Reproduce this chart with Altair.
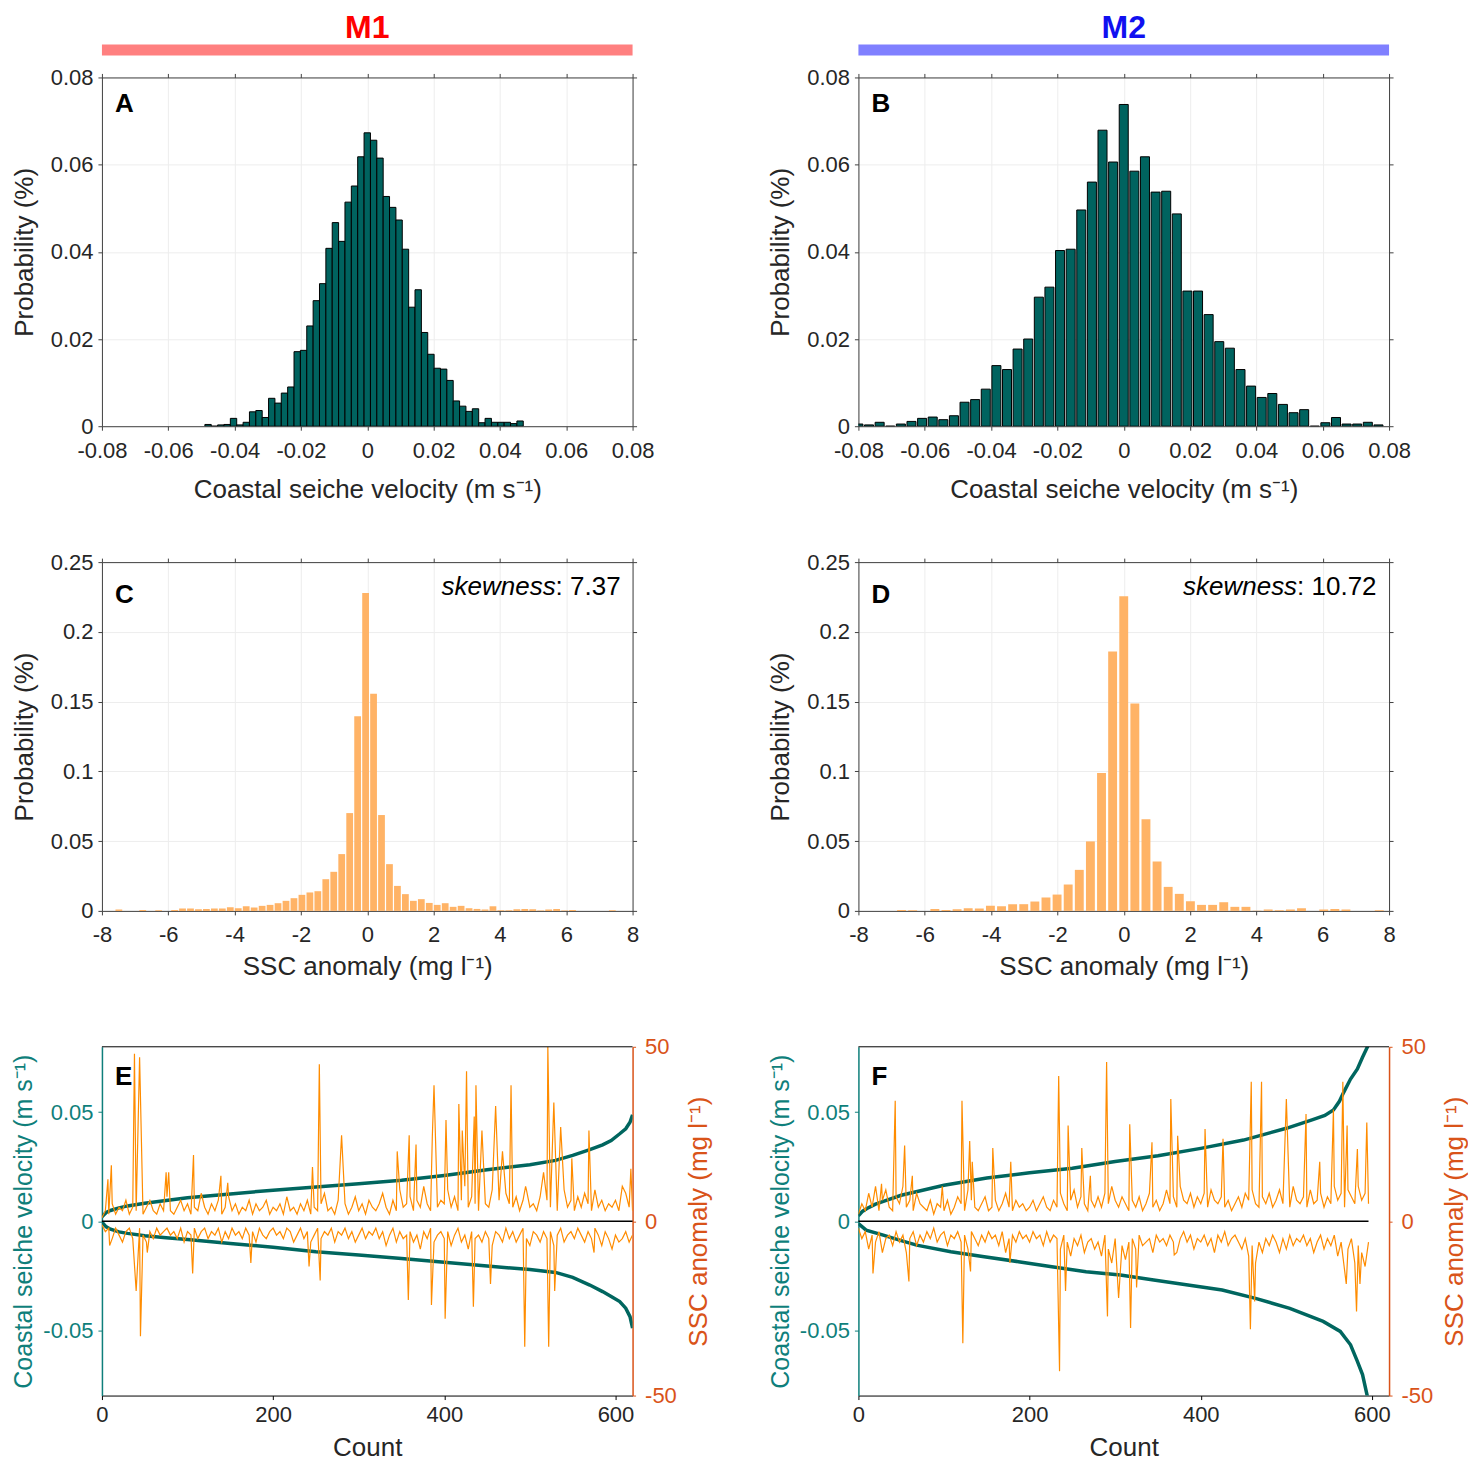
import altair as alt
import pandas as pd

FONT = "Liberation Sans"
DARK = "#262626"
GRID = "#EDEDED"
HIST_TEAL = "#00635F"
HIST_ORANGE = "#FFB366"
TEAL = "#00665F"
TEAL_AX = "#0F7F7B"
ORANGE = "#FF8C00"
ORANGE_AX = "#D95319"
LBL = "replace(format(datum.value, '~g'), '\u2212', '-')"

# ---------------- Panel A (M1 velocity histogram) ----------------
A_BIN = 0.00192
A_K0 = -25
A_PROB = [0.0004, 0.0, 0.0003, 0.0004, 0.0018, 0.0003, 0.0009, 0.0033, 0.0036, 0.0020,
          0.0064, 0.0053, 0.0076, 0.0090, 0.0171, 0.0174, 0.0230, 0.0288, 0.0327, 0.0408,
          0.0467, 0.0424, 0.0514, 0.0551, 0.0618, 0.0673, 0.0656, 0.0615, 0.0527, 0.0502,
          0.0473, 0.0406, 0.0273, 0.0313, 0.0215, 0.0165, 0.0133, 0.0131, 0.0105, 0.0058,
          0.0046, 0.0034, 0.0040, 0.0008, 0.0018, 0.0009, 0.0009, 0.0009, 0.0006, 0.0012]

# ---------------- Panel B (M2 velocity histogram) ----------------
B_BIN = 0.0032
B_K0 = -25
B_PROB = [0.0005, 0.0003, 0.0009, 0.0, 0.0005, 0.0011, 0.0018, 0.0021, 0.0015, 0.0024,
          0.0055, 0.0061, 0.0085, 0.0139, 0.0130, 0.0177, 0.0200, 0.0296, 0.0319, 0.0403,
          0.0406, 0.0496, 0.0560, 0.0679, 0.0606, 0.0738, 0.0585, 0.0618, 0.0537, 0.0539,
          0.0487, 0.0310, 0.0310, 0.0256, 0.0194, 0.0179, 0.0130, 0.0092, 0.0066, 0.0075,
          0.0050, 0.0031, 0.0038, 0.0, 0.0008, 0.0020, 0.0005, 0.0005, 0.0009, 0.0003]

# ---------------- Panel C (M1 SSC anomaly histogram) ----------------
C_BIN = 0.24
C_C0 = -0.05
C_K0 = -31
C_PROB = [0.0010, 0.0, 0.0, 0.0007, 0.0, 0.0005, 0.0, 0.0007, 0.0017, 0.0017,
          0.0012, 0.0014, 0.0017, 0.0017, 0.0026, 0.0019, 0.0033, 0.0024, 0.0036, 0.0043,
          0.0055, 0.0072, 0.0091, 0.0115, 0.0132, 0.0141, 0.0227, 0.0280, 0.0407, 0.0701,
          0.1395, 0.2278, 0.1557, 0.0687, 0.0335, 0.0179, 0.0120, 0.0072, 0.0084, 0.0057,
          0.0043, 0.0055, 0.0029, 0.0036, 0.0019, 0.0014, 0.0010, 0.0033, 0.0005, 0.0005,
          0.0012, 0.0014, 0.0012, 0.0002, 0.0010, 0.0014, 0.0002, 0.0007, 0.0, 0.0,
          0.0, 0.0, 0.0005]
C_SKEW = "7.37"

# ---------------- Panel D (M2 SSC anomaly histogram) ----------------
D_BIN = 0.335
D_C0 = 0.0
D_K0 = -23
D_PROB = [0.0, 0.0, 0.0, 0.0007, 0.0005, 0.0, 0.0014, 0.0007, 0.0012, 0.0019,
          0.0017, 0.0036, 0.0033, 0.0048, 0.0048, 0.0067, 0.0096, 0.0117, 0.0189, 0.0294,
          0.0498, 0.0988, 0.1859, 0.2256, 0.1486, 0.0656, 0.0354, 0.0172, 0.0122, 0.0069,
          0.0043, 0.0043, 0.0062, 0.0029, 0.0029, 0.0002, 0.0010, 0.0005, 0.0010, 0.0019,
          0.0, 0.0010, 0.0014, 0.0010, 0.0, 0.0, 0.0005]
D_SKEW = "10.72"

# ---------------- Panel E (M1 sorted velocity + SSC anomaly) ----------------
E_TEAL_UP_C = [0, 5, 10, 20, 30, 50, 75, 100, 150, 200, 250, 300, 350, 400, 450, 500,
               530, 550, 570, 585, 595, 605, 612, 617, 620]
E_TEAL_UP_V = [0.0020, 0.0040, 0.0049, 0.0061, 0.0070, 0.0082, 0.0095, 0.0107, 0.0125, 0.0142,
               0.0157, 0.0172, 0.0188, 0.0210, 0.0236, 0.0259, 0.0279, 0.0302, 0.0328, 0.0350,
               0.0370, 0.0401, 0.0424, 0.0454, 0.0488]
E_TEAL_DN_C = E_TEAL_UP_C
E_TEAL_DN_V = [-0.0005, -0.0026, -0.0037, -0.0049, -0.0056, -0.0067, -0.0076, -0.0084, -0.0102,
               -0.0120, -0.0140, -0.0155, -0.0171, -0.0189, -0.0206, -0.0222, -0.0235, -0.0258,
               -0.0293, -0.0323, -0.0346, -0.0369, -0.0399, -0.0438, -0.0491]
E_STEP = 4
E_SSC_UP = [1, 3, 2, 5, 2, 4, 3, 6, 2, 4,
            3, 5, 2, 4, 6, 3, 2, 5, 3, 7,
            3, 2, 4, 6, 3, 5, 2, 4, 3, 8,
            4, 2, 5, 3, 6, 2, 4, 7, 3, 5,
            2, 4, 3, 6, 2, 5, 3, 4, 6, 2,
            4, 3, 5, 2, 7, 3, 4, 2, 5, 3,
            6, 2, 4, 3, 5, 8, 3, 4, 2, 6,
            3, 5, 2, 4, 7, 3, 5, 2, 6, 4,
            3, 5, 8, 4, 2, 6, 3, 9, 4, 5,
            7, 3, 6, 4, 10, 5, 3, 8, 4, 6,
            5, 9, 4, 7, 3, 6, 10, 4, 7, 5,
            3, 8, 5, 4, 9, 3, 6, 4, 8, 5,
            4, 7, 3, 6, 9, 4, 5, 3, 7, 4,
            6, 4, 8, 3, 5, 9, 4, 6, 3, 7,
            4, 8, 5, 3, 9, 4, 6, 3, 5, 4,
            6, 3, 5, 8, 4, 3]
E_SSC_DN = [-1, -3, -2, -5, -2, -4, -6, -3, -2, -5,
            -3, -2, -4, -6, -3, -5, -2, -4, -3, -2,
            -4, -3, -5, -2, -6, -3, -4, -2, -5, -3,
            -2, -5, -3, -4, -2, -6, -3, -5, -2, -4,
            -3, -5, -2, -4, -3, -6, -2, -4, -5, -3,
            -2, -4, -3, -5, -2, -3, -6, -4, -2, -5,
            -3, -6, -4, -2, -5, -3, -4, -2, -6, -3,
            -4, -2, -5, -3, -6, -4, -2, -5, -3, -4,
            -2, -5, -3, -7, -4, -2, -6, -3, -5, -4,
            -3, -6, -4, -8, -3, -5, -2, -6, -4, -3,
            -5, -3, -7, -4, -2, -6, -4, -8, -3, -5,
            -4, -6, -3, -5, -7, -3, -4, -6, -2, -5,
            -3, -6, -4, -2, -5, -7, -3, -4, -6, -3,
            -5, -3, -7, -4, -2, -6, -4, -3, -5, -2,
            -4, -6, -3, -5, -2, -4, -7, -3, -5, -8,
            -4, -9, -5, -3, -6, -4]
E_SPIKE_UP_C = [7, 11, 38, 44, 75, 78, 107, 139, 147, 246, 254, 280, 345, 359, 367, 386, 388,
                402, 417, 421, 426, 435, 437, 444, 460, 468, 478, 495, 516, 521, 528, 536, 549,
                569, 608, 618]
E_SPIKE_UP_V = [12, 16, 48, 47, 14, 14, 19, 13, 11, 15.5, 45, 24.6, 20, 24.6, 22, 24, 39,
                29, 33.6, 26, 43, 30, 39, 26, 33, 20, 39, 10, 14, 50, 34, 27, 18,
                26, 10, 15]
E_SPIKE_DN_C = [9, 40, 45, 53, 106, 174, 242, 255, 358, 385, 401, 434, 454, 494, 522, 529, 575, 604]
E_SPIKE_DN_V = [-7, -20, -33, -9, -15, -12, -13, -17, -22.6, -24, -28, -24.5, -18, -36, -36, -20, -9, -6]
E_END = 620

# ---------------- Panel F (M2 sorted velocity + SSC anomaly) ----------------
F_TEAL_UP_C = [0, 5, 10, 20, 30, 50, 75, 100, 150, 200, 250, 300, 350, 400, 450, 500,
               530, 545, 555, 562, 567, 575, 583, 589, 596]
F_TEAL_UP_V = [0.0025, 0.0046, 0.0058, 0.0078, 0.0092, 0.0119, 0.0142, 0.0165, 0.0198, 0.0222,
               0.0243, 0.0274, 0.0300, 0.0334, 0.0372, 0.0426, 0.0465, 0.0485, 0.0510, 0.0550,
               0.0591, 0.0652, 0.0698, 0.0752, 0.0810]
F_TEAL_DN_C = [0, 9, 29, 48, 68, 108, 147, 187, 226, 266, 306, 345, 385, 425, 464, 504, 543,
               563, 575, 583, 589, 595]
F_TEAL_DN_V = [-0.0011, -0.0041, -0.0064, -0.0087, -0.0110, -0.0140, -0.0163, -0.0186, -0.0209,
               -0.0232, -0.0247, -0.0270, -0.0293, -0.0316, -0.0354, -0.0400, -0.0460, -0.0506,
               -0.0567, -0.0643, -0.0704, -0.0810]
F_STEP = 4
F_SSC_UP = [2, 5, 3, 8, 4, 10, 3, 6, 9, 4,
            3, 7, 5, 10, 4, 6, 3, 8, 5, 4,
            3, 6, 2, 5, 4, 3, 6, 2, 4, 7,
            5, 3, 9, 6, 4, 3, 5, 7, 3, 4,
            6, 3, 5, 8, 4, 3, 6, 4, 5, 3,
            4, 6, 3, 5, 7, 4, 3, 6, 4, 8,
            5, 3, 6, 9, 4, 7, 5, 3, 6, 4,
            7, 4, 8, 5, 10, 6, 4, 7, 5, 3,
            6, 4, 7, 3, 5, 8, 4, 6, 3, 5,
            9, 5, 7, 4, 10, 6, 5, 8, 4, 7,
            5, 8, 4, 9, 6, 5, 7, 4, 6, 3,
            5, 7, 4, 8, 6, 9, 5, 4, 7, 5,
            8, 4, 6, 9, 5, 7, 4, 10, 6, 5,
            7, 4, 9, 5, 6, 8, 4, 7, 5, 10,
            6, 8, 4, 9, 7, 5, 10, 6, 8, 5]
F_SSC_DN = [-2, -5, -3, -8, -4, -6, -3, -9, -5, -4,
            -7, -3, -6, -4, -9, -5, -3, -7, -4, -6,
            -3, -5, -2, -6, -4, -3, -7, -4, -5, -3,
            -6, -4, -8, -3, -5, -7, -4, -6, -3, -5,
            -4, -7, -3, -9, -5, -4, -6, -3, -5, -4,
            -6, -3, -5, -4, -7, -3, -6, -4, -5, -8,
            -4, -6, -10, -5, -7, -4, -9, -6, -5, -8,
            -6, -10, -4, -8, -12, -5, -9, -7, -11, -6,
            -5, -8, -4, -7, -6, -5, -9, -4, -6, -5,
            -7, -4, -6, -9, -5, -3, -6, -4, -8, -5,
            -6, -4, -7, -5, -9, -4, -6, -3, -7, -5,
            -4, -6, -8, -5, -10, -7, -12, -6, -9, -5,
            -7, -4, -6, -9, -5, -8, -4, -7, -5, -6,
            -4, -7, -5, -9, -6, -4, -8, -5, -7, -4,
            -10, -6, -14, -8, -5, -12, -7, -9, -13, -6]
F_SPIKE_UP_C = [27, 43, 54, 63, 98, 121, 130, 133, 157, 178, 234, 245, 261, 271, 290, 317, 343,
                365, 373, 405, 426, 459, 471, 500, 523, 539, 555, 566, 571, 583, 594]
F_SPIKE_UP_V = [10.7, 34.5, 21.7, 13, 10, 34.5, 23, 17, 21, 17, 41.6, 27.4, 21, 13, 45.6, 27.8,
                22.6, 35, 24.5, 26.4, 23.6, 40, 40, 35, 30.7, 17, 32, 40, 27.4, 20.7, 28.3]
F_SPIKE_DN_C = [17, 59, 122, 131, 177, 235, 242, 291, 304, 318, 325, 369, 458, 463, 570, 582, 586]
F_SPIKE_DN_V = [-15, -17.3, -35, -14.4, -12, -43, -20, -27.3, -22, -30.6, -19, -9.7, -31, -23,
                -18, -25.9, -18]
F_END = 596

PANEL_W = 531
PANEL_H = 349


def bins(k0, n, width, c0=0.0):
    return [c0 + (k0 + i) * width for i in range(n)]


def merged(step, base, spike_c, spike_v):
    d = {i * step: v for i, v in enumerate(base)}
    d.update(dict(zip(spike_c, spike_v)))
    keys = sorted(d)
    return keys, [d[k] for k in keys]


def text_layer(txt, x, y, size, weight="normal", style="normal", align="left",
               baseline="alphabetic", color="black"):
    return alt.Chart(pd.DataFrame({"t": [txt]})).mark_text(
        font=FONT, fontSize=size, fontWeight=weight, fontStyle=style, align=align,
        baseline=baseline, color=color
    ).encode(text="t:N", x=alt.value(x), y=alt.value(y))


def header_layers(label, txt_color, bar_color, w):
    bar = alt.Chart(pd.DataFrame({"a": [0]})).mark_rect(color=bar_color).encode(
        x=alt.value(0), x2=alt.value(w), y=alt.value(-33), y2=alt.value(-22))
    txt = text_layer(label, w / 2, -39, 32, weight="bold", align="center",
                     baseline="alphabetic", color=txt_color)
    return [bar, txt]


def hist_panel(centers, probs, bw, frac, xdom, xvals, ydom, yvals, fill, stroke,
               letter, letter_y, xtitle, w, h, xtpad, extra=None):
    half = bw * frac / 2
    df = pd.DataFrame({"x0": [c - half for c in centers],
                       "x1": [c + half for c in centers], "p": probs})
    xs = alt.Scale(domain=xdom, nice=False, zero=False)
    ys = alt.Scale(domain=ydom, nice=False, zero=False)
    xaxis = alt.Axis(values=xvals, labelExpr=LBL, title=xtitle, grid=True, gridColor=GRID,
                     tickSize=4, labelPadding=10, titlePadding=xtpad, labelFlush=False,
                     labelOverlap=False)
    yaxis = alt.Axis(values=yvals, labelExpr=LBL, title="Probability (%)", grid=True,
                     gridColor=GRID, tickSize=4, labelPadding=5, titlePadding=13,
                     labelFlush=False, labelOverlap=False)
    if stroke:
        mk = dict(fill=fill, stroke=stroke, strokeWidth=1, clip=True)
    else:
        mk = dict(fill=fill, strokeWidth=0, clip=True)
    bars = alt.Chart(df).mark_rect(**mk).encode(
        x=alt.X("x0:Q", scale=xs, axis=xaxis), x2="x1:Q",
        y=alt.Y("p:Q", scale=ys, axis=yaxis), y2=alt.datum(0))
    mirror = alt.Chart(df).mark_point(opacity=0).encode(
        x=alt.X("x0:Q", scale=xs, axis=alt.Axis(orient="top", values=xvals, labels=False,
                                                title=None, grid=False, tickSize=4)),
        y=alt.Y("p:Q", scale=ys, axis=alt.Axis(orient="right", values=yvals, labels=False,
                                               title=None, grid=False, tickSize=4)))
    layers = [bars, mirror, text_layer(letter, 13, letter_y, 26, weight="bold")]
    if extra:
        layers += extra
    return alt.layer(*layers).resolve_axis(x="independent", y="independent").properties(
        width=w, height=h)


def skew_layers(value, w, suffix_width):
    xj = w - 12 - suffix_width
    return [text_layer("skewness", xj, 33, 26, style="italic", align="right"),
            text_layer(": " + value, xj, 33, 26, align="left")]


def line_panel(tu_c, tu_v, td_c, td_v, su_c, su_v, sd_c, sd_v, end, letter, w, h):
    teal_df = pd.concat([
        pd.DataFrame({"count": tu_c, "v": tu_v, "branch": "up"}),
        pd.DataFrame({"count": td_c, "v": td_v, "branch": "down"})])
    ssc_df = pd.concat([
        pd.DataFrame({"count": su_c, "s": su_v, "branch": "up"}),
        pd.DataFrame({"count": sd_c, "s": sd_v, "branch": "down"})])
    xs = alt.Scale(domain=[0, 620], nice=False, zero=False)
    teal = alt.Chart(teal_df).mark_line(color=TEAL, strokeWidth=3.5, clip=True).encode(
        x=alt.X("count:Q", scale=xs,
                axis=alt.Axis(orient="bottom", values=[0, 200, 400, 600], title="Count",
                              tickSize=4, labelPadding=5, titlePadding=9, labelFlush=False,
                              domainColor="black", tickColor="black", grid=False)),
        y=alt.Y("v:Q", scale=alt.Scale(domain=[-0.08, 0.08], nice=False, zero=False),
                axis=alt.Axis(orient="left", values=[-0.05, 0, 0.05], labelExpr=LBL,
                              title="Coastal seiche velocity (m s\u207b\u00b9)",
                              titleColor=TEAL_AX, labelColor=TEAL_AX, domainColor=TEAL_AX,
                              tickColor=TEAL_AX, domainWidth=1.5, tickSize=4, labelPadding=5,
                              titlePadding=6, titleFontSize=25, grid=False,
                              labelFlush=False)),
        detail="branch:N")
    orange = alt.Chart(ssc_df).mark_line(color=ORANGE, strokeWidth=1.2, clip=True).encode(
        x=alt.X("count:Q", scale=xs, axis=None),
        y=alt.Y("s:Q", scale=alt.Scale(domain=[-50, 50], nice=False, zero=False),
                axis=alt.Axis(orient="right", values=[-50, 0, 50], labelExpr=LBL,
                              title="SSC anomaly (mg l\u207b\u00b9)", titleColor=ORANGE_AX,
                              labelColor=ORANGE_AX, domainColor=ORANGE_AX,
                              tickColor=ORANGE_AX, domainWidth=1.5, tickSize=3,
                              labelPadding=9, titlePadding=9, titleAngle=270,
                              titleBaseline="top", grid=False, labelFlush=False)),
        detail="branch:N")
    zero = alt.Chart(pd.DataFrame({"x0": [0], "x1": [end], "y": [0]})).mark_rule(
        color="black", strokeWidth=1.5).encode(
        x=alt.X("x0:Q", scale=xs, axis=None), x2="x1:Q",
        y=alt.Y("y:Q", scale=alt.Scale(domain=[-50, 50], nice=False, zero=False), axis=None))
    top = alt.Chart(pd.DataFrame({"a": [0]})).mark_rule(color="black", strokeWidth=1).encode(
        x=alt.value(0), x2=alt.value(w), y=alt.value(0))
    return alt.layer(teal, orange, zero, top,
                     text_layer(letter, 13, 38, 26, weight="bold")).resolve_scale(
        y="independent").resolve_axis(x="independent", y="independent").properties(
        width=w, height=h)


XV = [-0.08, -0.06, -0.04, -0.02, 0, 0.02, 0.04, 0.06, 0.08]
XS = [-8, -6, -4, -2, 0, 2, 4, 6, 8]
YV = [0, 0.02, 0.04, 0.06, 0.08]
YS = [0, 0.05, 0.1, 0.15, 0.2, 0.25]
VT = "Coastal seiche velocity (m s\u207b\u00b9)"
ST = "SSC anomaly (mg l\u207b\u00b9)"

panel_a = hist_panel(bins(A_K0, len(A_PROB), A_BIN), A_PROB, A_BIN, 1.0, [-0.08, 0.08], XV,
                     [0, 0.08], YV, HIST_TEAL, "black", "A", 35, VT, PANEL_W, PANEL_H, 15,
                     extra=header_layers("M1", "#FF0000", "#FF8080", PANEL_W))
panel_b = hist_panel(bins(B_K0, len(B_PROB), B_BIN), B_PROB, B_BIN, 0.85, [-0.08, 0.08], XV,
                     [0, 0.08], YV, HIST_TEAL, "black", "B", 35, VT, PANEL_W, PANEL_H, 15,
                     extra=header_layers("M2", "#1010F0", "#8080FF", PANEL_W))
panel_c = hist_panel(bins(C_K0, len(C_PROB), C_BIN, C_C0), C_PROB, C_BIN, 0.85, [-8, 8], XS,
                     [0, 0.25], YS, HIST_ORANGE, None, "C", 41, ST, PANEL_W, PANEL_H, 8,
                     extra=skew_layers(C_SKEW, PANEL_W, 65))
panel_d = hist_panel(bins(D_K0, len(D_PROB), D_BIN, D_C0), D_PROB, D_BIN, 0.8, [-8, 8], XS,
                     [0, 0.25], YS, HIST_ORANGE, None, "D", 41, ST, PANEL_W, PANEL_H, 8,
                     extra=skew_layers(D_SKEW, PANEL_W, 80))

eu_c, eu_v = merged(E_STEP, E_SSC_UP, E_SPIKE_UP_C, E_SPIKE_UP_V)
ed_c, ed_v = merged(E_STEP, E_SSC_DN, E_SPIKE_DN_C, E_SPIKE_DN_V)
fu_c, fu_v = merged(F_STEP, F_SSC_UP, F_SPIKE_UP_C, F_SPIKE_UP_V)
fd_c, fd_v = merged(F_STEP, F_SSC_DN, F_SPIKE_DN_C, F_SPIKE_DN_V)

panel_e = line_panel(E_TEAL_UP_C, E_TEAL_UP_V, E_TEAL_DN_C, E_TEAL_DN_V,
                     eu_c, eu_v, ed_c, ed_v, E_END, "E", PANEL_W, PANEL_H)
panel_f = line_panel(F_TEAL_UP_C, F_TEAL_UP_V, F_TEAL_DN_C, F_TEAL_DN_V,
                     fu_c, fu_v, fd_c, fd_v, F_END, "F", PANEL_W, PANEL_H)

chart = alt.concat(panel_a, panel_b, panel_c, panel_d, panel_e, panel_f, columns=2,
                   spacing={"row": 136, "column": 226}, bounds="flush").properties(
    padding={"left": 3, "top": 4, "right": 0, "bottom": 0}
).configure(font=FONT).configure_view(stroke=None).configure_axis(
    labelFont=FONT, titleFont=FONT, labelFontSize=22, titleFontSize=26,
    labelColor=DARK, titleColor=DARK, domainColor="#404040", tickColor="#404040",
    titleFontWeight="normal", domainWidth=1
)

chart.save("out.html", embed_options={"renderer": "svg", "actions": False})
